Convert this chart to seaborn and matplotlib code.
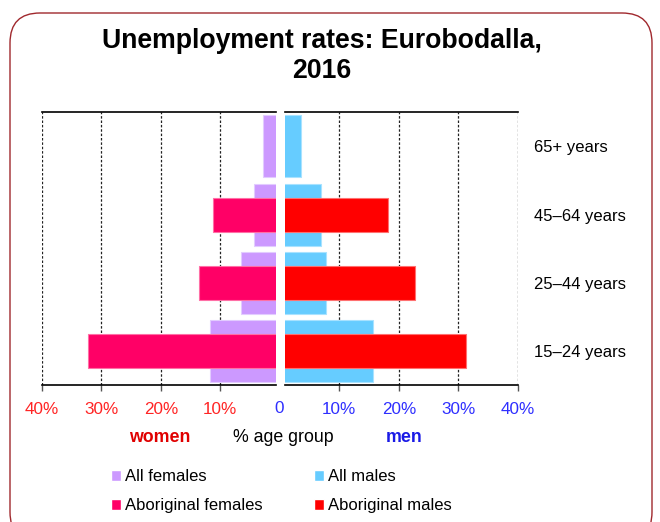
import numpy as np
import pandas as pd
import matplotlib
matplotlib.use("Agg")
import matplotlib.pyplot as plt
from matplotlib.patches import Patch, FancyBboxPatch
import seaborn as sns

# values (% of age group unemployed)
age_groups = ["65+ years", "45–64 years", "25–44 years", "15–24 years"]
all_females = [2.9, 4.4, 6.5, 11.7]
aboriginal_females = [np.nan, 11.3, 13.5, 32.2]
all_males = [3.5, 6.9, 7.75, 15.6]
aboriginal_males = [np.nan, 18.2, 22.7, 31.3]
ticks = [10, 20, 30, 40]
tick_labels = ["10%", "20%", "30%", "40%"]

c_all_f = "#CC99FF"
c_abo_f = "#FF0066"
c_all_m = "#66CCFF"
c_abo_m = "#FF0000"

sns.set_style("white")
plt.rcParams["font.family"] = ["Liberation Sans", "DejaVu Sans"]
plt.rcParams["text.color"] = "black"
plt.rcParams["ytick.color"] = "black"

fig = plt.figure(figsize=(6.6, 5.22), dpi=100)
W, H = 660, 522
bottom = (H - 385.3) / H
height = (385.3 - 112.3) / H
ax_l = fig.add_axes([41.7 / W, bottom, (276 - 41.7) / W, height])
ax_r = fig.add_axes([285 / W, bottom, (518 - 285) / W, height])


def bars(ax, vals, color, edge, width):
    df = pd.DataFrame({"age": age_groups, "v": vals}).dropna()
    sns.barplot(data=df, x="v", y="age", order=age_groups, orient="h",
                color=color, saturation=1, width=width, errorbar=None,
                edgecolor=edge, linewidth=0.8, ax=ax, zorder=3)


bars(ax_l, all_females, c_all_f, "#E2CCFF", 0.91)
bars(ax_l, aboriginal_females, c_abo_f, "#FF6FA6", 0.5)
bars(ax_r, all_males, c_all_m, "#A8E2FF", 0.91)
bars(ax_r, aboriginal_males, c_abo_m, "#FF7070", 0.5)

ax_l.set_xlim(40, 0.64)
ax_r.set_xlim(0.89, 40)

for ax, col in [(ax_l, "#FF2424"), (ax_r, "#2E2EFF")]:
    ax.set_xlabel("")
    ax.set_ylabel("")
    ax.set_xticks(ticks)
    ax.set_xticklabels(tick_labels, color=col, fontsize=12.3)
    ax.tick_params(axis="x", direction="out", length=4, width=1,
                   color="#555555", pad=8, bottom=True)
    ax.grid(axis="x", color="#222222", linewidth=0.9, linestyle=(0, (2, 1.5)))
    ax.set_axisbelow(True)
    for s in ["left", "right"]:
        ax.spines[s].set_visible(False)
    for s in ["top", "bottom"]:
        ax.spines[s].set_color("black")
        ax.spines[s].set_linewidth(1.2)
    ax.set_facecolor("none")

ax_l.tick_params(axis="y", left=False, labelleft=False)
ax_r.tick_params(axis="y", left=False, labelleft=False, right=False,
                 labelright=True, length=0, pad=11.5, labelsize=12,
                 labelcolor="black")
for lab in ax_r.get_yticklabels():
    lab.set_horizontalalignment("left")

# zero label between the two halves
fig.text(279.5 / W, (H - 408.5) / H, "0", color="#2E2EFF", fontsize=12.3,
         ha="center", va="center")

# axis captions
fig.text(160 / W, (H - 437) / H, "women", color="#E00000", fontsize=12.8,
         fontweight="bold", ha="center", va="center")
fig.text(283 / W, (H - 437) / H, "% age group", color="black", fontsize=12.8,
         ha="center", va="center")
fig.text(404.5 / W, (H - 437) / H, "men", color="#1A1AE6", fontsize=12.8,
         fontweight="bold", ha="center", va="center")

fig.text(322 / W, (H - 28) / H, "Unemployment rates: Eurobodalla,\n2016",
         fontsize=19.2, fontweight="bold", ha="center", va="top",
         linespacing=1.22, color="black")

handles = [Patch(facecolor=c_all_f), Patch(facecolor=c_abo_f),
           Patch(facecolor=c_all_m), Patch(facecolor=c_abo_m)]
labels = ["All females", "Aboriginal females", "All males", "Aboriginal males"]
fig.legend(handles, labels, ncol=2, loc="center left",
           bbox_to_anchor=(111 / W, (H - 491.4) / H), frameon=False,
           fontsize=12, handlelength=0.62, handleheight=0.7,
           handletextpad=0.2, columnspacing=3.1, labelspacing=0.85,
           borderpad=0, borderaxespad=0)

border = FancyBboxPatch((0.10, -0.2), 6.42, 5.09 + 0.2,
                        boxstyle="round,pad=0,rounding_size=0.3",
                        transform=fig.dpi_scale_trans, facecolor="none",
                        edgecolor="#A0282D", linewidth=1.0, clip_on=False)
fig.patches.append(border)

fig.savefig("out.png", dpi=100)
